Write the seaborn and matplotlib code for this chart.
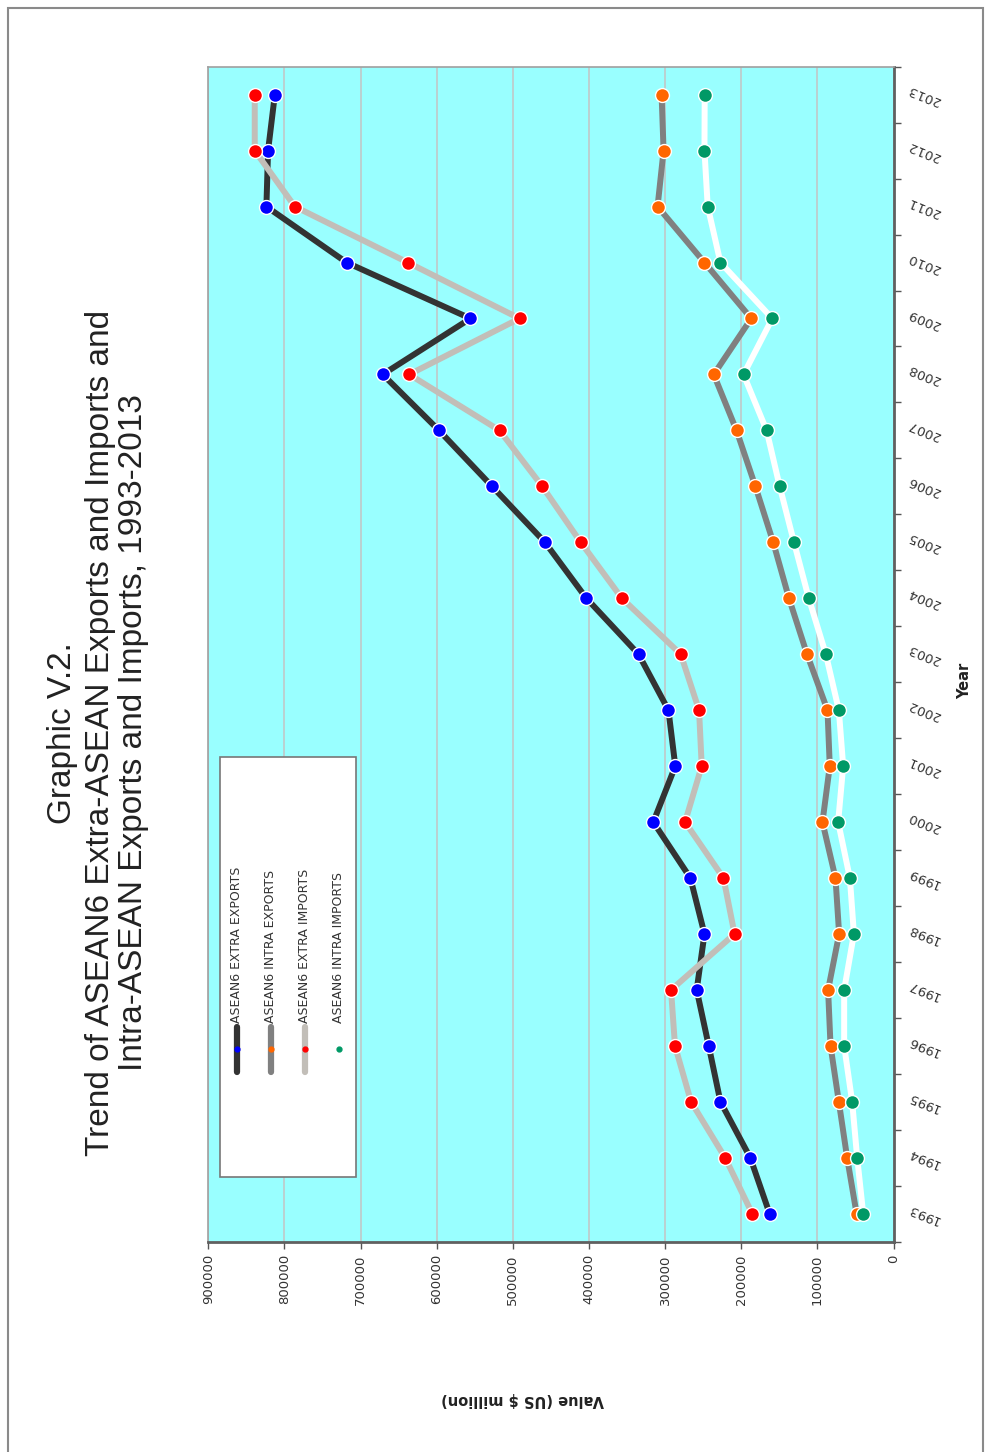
import numpy as np
import pandas as pd
import matplotlib
matplotlib.use("Agg")
import matplotlib.pyplot as plt
import seaborn as sns
from matplotlib.patches import Rectangle
from matplotlib.lines import Line2D

# ---------------- data ----------------
years = list(range(1993, 2014))
extra_exports = [162700, 188100, 227300, 242700, 258500, 248300, 266800, 315500, 286600, 295600,
                 334900, 403400, 457800, 527300, 597000, 670900, 555700, 718300, 823700, 821500, 812600]
intra_exports = [48500, 60900, 71800, 82700, 85900, 71400, 76200, 93300, 83700, 86700,
                 113600, 137300, 158000, 181400, 206200, 236100, 186800, 248300, 309900, 302000, 304600]
extra_imports = [185500, 221100, 265900, 287000, 292200, 208800, 223300, 273800, 251900, 255400,
                 279500, 356800, 410800, 461400, 517500, 636100, 491200, 637900, 786300, 839000, 839000]
intra_imports = [39800, 47700, 54300, 64800, 64800, 52000, 57300, 72700, 66100, 71800,
                 88900, 111300, 130700, 149500, 166700, 197000, 159200, 227300, 244000, 248300, 248000]
series_names = ["ASEAN6 EXTRA EXPORTS", "ASEAN6 INTRA EXPORTS",
                "ASEAN6 EXTRA IMPORTS", "ASEAN6 INTRA IMPORTS"]
value_ticks = [0, 100000, 200000, 300000, 400000, 500000, 600000, 700000, 800000, 900000]
title_lines = ["Graphic V.2.",
               "Trend of ASEAN6 Extra-ASEAN Exports and Imports and",
               "Intra-ASEAN Exports and Imports, 1993-2013"]

line_colors = ["#333333", "#808080", "#c2beb8", "#ffffff"]
marker_colors = ["#0000ff", "#ff6600", "#ff0000", "#009966"]

df = pd.DataFrame({
    "Year": years * 4,
    "Value": extra_exports + intra_exports + extra_imports + intra_imports,
    "Series": sum([[n] * len(years) for n in series_names], []),
})

# ---------------- figure ----------------
sns.set_style("white")
plt.rcParams["font.family"] = ["DejaVu Sans"]

W, H = 985, 1452
fig = plt.figure(figsize=(W / 100, H / 100), dpi=100)


def fx(p):
    return p / W


def fy(p):
    return 1 - p / H


L, R, T, B = 208.3, 893.5, 66.7, 1241.7
ax = fig.add_axes([fx(L), fy(B), (R - L) / W, (B - T) / H])
ax.set_facecolor("#99ffff")

for i, name in enumerate(series_names):
    sub = df[df["Series"] == name]
    sns.lineplot(data=sub, x="Value", y="Year", orient="y", sort=True, estimator=None,
                 color=line_colors[i], lw=4.3, ax=ax, legend=False, zorder=2 + 2 * i)
    sns.scatterplot(data=sub, x="Value", y="Year", color=marker_colors[i], s=100,
                    edgecolor="white", linewidth=1.0, ax=ax, legend=False, zorder=3 + 2 * i)

ax.set_xlim(900000, 0)
ax.set_ylim(1992.5, 2013.5)
ax.set_xlabel("")
ax.set_ylabel("")

ax.xaxis.grid(True, color="#c4c4c4", lw=1.1)
ax.yaxis.grid(False)
ax.set_axisbelow(True)

ax.set_xticks(value_ticks)
ax.set_xticklabels([str(v) for v in value_ticks], rotation=90, fontsize=9.5, color="#333333")
ax.tick_params(axis="x", which="major", direction="out", length=5, width=1, color="#555555",
               bottom=True, pad=4)

ax.yaxis.tick_right()
ax.set_yticks(np.arange(1992.5, 2014.0, 1.0))
ax.set_yticklabels([])
ax.set_yticks(years, minor=True)
ax.set_yticklabels([str(y) for y in years], minor=True)
ax.tick_params(axis="y", which="major", direction="out", length=5, width=1, color="#555555",
               right=True, left=False)
ax.tick_params(axis="y", which="minor", length=0, pad=22, labelsize=9.5, labelcolor="#333333",
               right=True, left=False)
for lab in ax.get_yticklabels(minor=True):
    lab.set_rotation(158)
    lab.set_rotation_mode("anchor")
    lab.set_ha("center")
    lab.set_va("center")

for s in ["left", "top"]:
    ax.spines[s].set_color("#a0a0a0")
    ax.spines[s].set_linewidth(1.2)
for s in ["right", "bottom"]:
    ax.spines[s].set_color("#606060")
    ax.spines[s].set_linewidth(2.0)

# axis titles
fig.text(fx(523), fy(1400), "Value (US $ million)", rotation=180, ha="center", va="center",
         fontsize=10.5, fontweight="bold", color="#222222")
fig.text(fx(965), fy(681), "Year", rotation=90, ha="center", va="center",
         fontsize=10.5, fontweight="bold", color="#222222")

# title (rotated page)
title_x = [63, 101, 134]
for tx, tl in zip(title_x, title_lines):
    fig.text(fx(tx), fy(733), tl, rotation=90, ha="center", va="center", fontsize=24,
             family=["Liberation Sans", "DejaVu Sans"], color="#222222")

# legend box
fig.add_artist(Rectangle((fx(220), fy(1177)), (356 - 220) / W, (1177 - 757) / H,
                         transform=fig.transFigure, facecolor="white", edgecolor="#777777",
                         lw=1.2, zorder=5))
leg_x = [237, 271, 305, 339]
for i, name in enumerate(series_names):
    fig.add_artist(Line2D([fx(leg_x[i])] * 2, [fy(1027), fy(1072)], color=line_colors[i],
                          lw=4.5, solid_capstyle="round", transform=fig.transFigure, zorder=6))
    fig.add_artist(Line2D([fx(leg_x[i])], [fy(1049)], marker="o", ms=3.5, lw=0,
                          mfc=marker_colors[i], mec=marker_colors[i],
                          transform=fig.transFigure, zorder=7))
    fig.text(fx(leg_x[i]), fy(1023), name, rotation=90, rotation_mode="anchor",
             ha="left", va="center", fontsize=9, color="#333333", zorder=7)

# page frame
fig.add_artist(Rectangle((fx(8), fy(1460)), (983 - 8) / W, (1460 - 8) / H,
                         transform=fig.transFigure, facecolor="none", edgecolor="#8a8a8a",
                         lw=1.5, zorder=1))

fig.savefig("out.png", dpi=100, facecolor="white")
